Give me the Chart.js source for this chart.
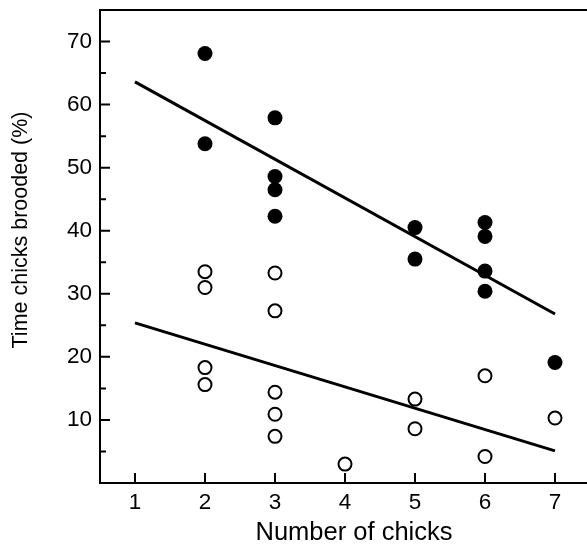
<!DOCTYPE html>
<html>
<head>
<meta charset="utf-8">
<script src="https://cdn.jsdelivr.net/npm/chart.js@4/dist/chart.umd.min.js"></script>
<style>
html,body{margin:0;padding:0;overflow:hidden;background:#fff;}
#wrap{position:absolute;left:0;top:0;width:610px;height:555px;}
</style>
</head>
<body>
<div id="wrap"><canvas id="c" width="610" height="555"></canvas></div>
<script>
// Filled circles: x = number of chicks, y = % time brooded
const filledX = [2, 2, 3, 3, 3, 3, 5, 5, 6, 6, 6, 6, 7];
const filledY = [68.1, 53.8, 57.9, 48.6, 46.5, 42.3, 40.5, 35.5, 41.3, 39.1, 33.6, 30.4, 19.1];
// Open circles
const openX = [2, 2, 2, 2, 3, 3, 3, 3, 3, 4, 5, 5, 6, 6, 7];
const openY = [33.5, 31.0, 18.3, 15.6, 33.3, 27.3, 14.4, 10.9, 7.4, 3.0, 13.3, 8.6, 17.0, 4.2, 10.3];
// Regression lines (endpoints)
const upperLineX = [1, 7];
const upperLineY = [63.6, 26.8];
const lowerLineX = [1, 7];
const lowerLineY = [25.4, 5.1];
// Axis ticks
const xTicks = [1, 2, 3, 4, 5, 6, 7];
const yTicks = [10, 20, 30, 40, 50, 60, 70];
const yMinorTicks = [5, 15, 25, 35, 45, 55, 65];

const toPts = (xs, ys) => xs.map((x, i) => ({x: x, y: ys[i]}));
const FONT = '"Liberation Sans", Arial, Helvetica, sans-serif';

const decor = {
  id: 'decor',
  afterDraw(chart) {
    const ctx = chart.ctx;
    const xs = chart.scales.x, ys = chart.scales.y;
    const a = chart.chartArea;
    ctx.save();
    ctx.strokeStyle = '#000';
    ctx.lineWidth = 2;
    ctx.beginPath();
    // top border
    ctx.moveTo(a.left, a.top); ctx.lineTo(a.right, a.top);
    // inward ticks on y axis
    yTicks.forEach(v => { const p = ys.getPixelForValue(v); ctx.moveTo(a.left, p); ctx.lineTo(a.left + 10, p); });
    yMinorTicks.forEach(v => { const p = ys.getPixelForValue(v); ctx.moveTo(a.left, p); ctx.lineTo(a.left + 6, p); });
    // inward ticks on x axis
    xTicks.forEach(v => { const p = xs.getPixelForValue(v); ctx.moveTo(p, a.bottom); ctx.lineTo(p, a.bottom - 10); });
    ctx.stroke();
    // axis titles
    ctx.fillStyle = '#000';
    ctx.textAlign = 'center';
    ctx.textBaseline = 'middle';
    ctx.font = '25.5px ' + FONT;
    ctx.fillText('Number of chicks', 354, 533);
    ctx.translate(21, 230);
    ctx.rotate(-Math.PI / 2);
    ctx.font = '21.5px ' + FONT;
    ctx.fillText('Time chicks brooded (%)', 0, 0);
    ctx.restore();
  }
};

new Chart(document.getElementById('c'), {
  type: 'scatter',
  data: {
    datasets: [
      {type: 'line', data: toPts(upperLineX, upperLineY), borderColor: '#000', borderWidth: 3, pointRadius: 0, fill: false, order: 3},
      {type: 'line', data: toPts(lowerLineX, lowerLineY), borderColor: '#000', borderWidth: 3, pointRadius: 0, fill: false, order: 3},
      {data: toPts(filledX, filledY), backgroundColor: '#000', borderColor: '#000', borderWidth: 0, pointRadius: 7.5, order: 1},
      {data: toPts(openX, openY), backgroundColor: '#fff', borderColor: '#000', borderWidth: 2, pointRadius: 6.5, order: 2}
    ]
  },
  options: {
    responsive: false,
    animation: false,
    events: [],
    layout: {padding: {top: 10, right: 20, left: 0, bottom: 0}},
    plugins: {legend: {display: false}, tooltip: {enabled: false}},
    scales: {
      x: {
        type: 'linear', min: 0.5, max: 7.5,
        grid: {display: false, drawTicks: false},
        border: {display: true, color: '#000', width: 2},
        afterBuildTicks: s => { s.ticks = xTicks.map(v => ({value: v})); },
        afterFit: s => { s.height = 72; s.paddingLeft = 0; s.paddingRight = 0; },
        ticks: {color: '#000', font: {family: FONT, size: 22.5}, padding: 6, maxRotation: 0}
      },
      y: {
        type: 'linear', min: 0, max: 75,
        grid: {display: false, drawTicks: false},
        border: {display: true, color: '#000', width: 2},
        afterBuildTicks: s => { s.ticks = yTicks.map(v => ({value: v})); },
        afterFit: s => { s.width = 100; s.paddingTop = 0; s.paddingBottom = 0; },
        ticks: {color: '#000', font: {family: FONT, size: 22.5}, padding: 8}
      }
    }
  },
  plugins: [decor]
});
</script>
</body>
</html>
